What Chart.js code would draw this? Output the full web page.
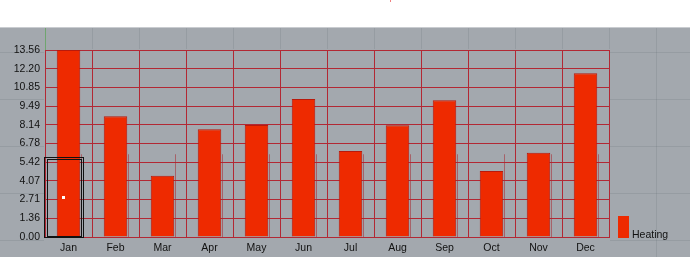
<!DOCTYPE html>
<html>
<head>
<meta charset="utf-8">
<script src="https://cdn.jsdelivr.net/npm/chart.js@4.4.0/dist/chart.umd.min.js"></script>
<style>
  html, body { margin: 0; padding: 0; background: #ffffff; }
  #wrap { width: 690px; height: 257px; position: relative; }
</style>
</head>
<body>
<div id="wrap"><canvas id="chart" width="690" height="257"></canvas></div>
<script>
// --- DADOS ---
const months = ['Jan', 'Feb', 'Mar', 'Apr', 'May', 'Jun', 'Jul', 'Aug', 'Sep', 'Oct', 'Nov', 'Dec'];
const heating = [13.56, 8.75, 4.45, 7.81, 8.12, 10.0, 6.24, 8.1, 9.91, 4.79, 6.11, 11.87];
const yTicks = [0, 1.356, 2.712, 4.068, 5.424, 6.78, 8.136, 9.492, 10.848, 12.204, 13.56];
const seriesName = 'Heating';

const BAR_RED = '#ee2a00';
const GRID_RED = 'rgb(178, 40, 52)';
const VIEW_GREY = '#a3a8ae';
const FONT = { family: '"Liberation Sans", Arial, sans-serif', size: 10.5 };

// fundo do viewport (faixa branca + cinza + grade fraca)
const viewportBg = {
    id: 'viewportBg',
    beforeDraw(chart) {
        const { ctx, width, height, chartArea, scales: { x } } = chart;
        ctx.save();
        ctx.fillStyle = '#ffffff';
        ctx.fillRect(0, 0, width, height);
        ctx.fillStyle = VIEW_GREY;
        ctx.fillRect(0, 27, width, height - 27);
        ctx.fillStyle = '#c9ccd0';
        ctx.fillRect(0, 27, width, 1);
        // grade fraca do viewport, só fora da área do gráfico
        ctx.beginPath();
        ctx.rect(0, 28, width, height - 28);
        ctx.rect(chartArea.left - 1, chartArea.top - 1, chartArea.width + 2, height - chartArea.top + 1);
        ctx.clip('evenodd');
        const step = x.getPixelForValue(1) - x.getPixelForValue(0);
        const x0 = x.getPixelForValue(0) - step / 2;
        ctx.strokeStyle = 'rgba(90, 95, 100, 0.16)';
        ctx.lineWidth = 1;
        for (let gx = x0; gx < width; gx += step) {
            ctx.beginPath(); ctx.moveTo(Math.round(gx) + 0.5, 28); ctx.lineTo(Math.round(gx) + 0.5, height); ctx.stroke();
        }
        for (let gy = 52; gy < height; gy += step) {
            ctx.beginPath(); ctx.moveTo(0, Math.round(gy) + 0.5); ctx.lineTo(width, Math.round(gy) + 0.5); ctx.stroke();
        }
        ctx.restore();
        ctx.save();
        // eixo verde
        ctx.strokeStyle = '#6fa56f';
        ctx.beginPath(); ctx.moveTo(Math.round(x0) + 0.5, 28); ctx.lineTo(Math.round(x0) + 0.5, chartArea.top); ctx.stroke();
        // pequena marca vermelha no topo
        ctx.fillStyle = '#f08080';
        ctx.fillRect(390, 0, 1, 2);
        ctx.restore();
    },
    afterDatasetsDraw(chart) {
        // linhas verticais duplicadas na parte de baixo
        const { ctx, scales: { x, y } } = chart;
        const step = x.getPixelForValue(1) - x.getPixelForValue(0);
        ctx.save();
        ctx.strokeStyle = 'rgba(170, 40, 50, 0.55)';
        ctx.lineWidth = 1;
        for (let i = 1; i <= months.length; i++) {
            const gx = Math.round(x.getPixelForValue(i) - step / 2 - 11) + 0.5;
            ctx.beginPath(); ctx.moveTo(gx, y.getPixelForValue(6)); ctx.lineTo(gx, y.getPixelForValue(0)); ctx.stroke();
        }
        ctx.restore();
    },
    afterDraw(chart) {
        const { ctx, chartArea, scales: { x, y } } = chart;
        const step = x.getPixelForValue(1) - x.getPixelForValue(0);
        ctx.save();
        // caixa de seleção preta em Jan
        const left = x.getPixelForValue(0) - step / 2;
        const y0 = y.getPixelForValue(0);
        const yTop = y.getPixelForValue(5.8);
        ctx.strokeStyle = '#111111';
        ctx.lineWidth = 1;
        ctx.strokeRect(Math.round(left) - 0.5, Math.round(yTop) + 0.5, 39, Math.round(y0 - yTop));
        ctx.strokeRect(Math.round(left) + 2.5, Math.round(yTop) + 2.5, 34, Math.round(y0 - yTop) - 3);
        ctx.fillStyle = '#ffffff';
        ctx.fillRect(Math.round(left) + 17, Math.round(y.getPixelForValue(2.92)) - 1, 3, 3);
        // legenda
        const lx = chartArea.right + 9;
        const lb = y0 + 1;
        ctx.fillStyle = BAR_RED;
        ctx.fillRect(lx, lb - 22, 11, 22);
        ctx.fillStyle = '#111111';
        ctx.font = `${FONT.size}px ${FONT.family}`;
        ctx.textBaseline = 'alphabetic';
        ctx.textAlign = 'left';
        ctx.fillText(seriesName, lx + 14, lb);
        ctx.restore();
    }
};

new Chart(document.getElementById('chart'), {
    type: 'bar',
    data: {
        labels: months,
        datasets: [{
            label: seriesName,
            data: heating,
            backgroundColor: BAR_RED,
            borderColor: '#b81a0c',
            borderWidth: 1,
            barPercentage: 1,
            categoryPercentage: 0.5
        }]
    },
    options: {
        responsive: false,
        animation: false,
        layout: { padding: { top: 50, right: 81, left: 0, bottom: 0 } },
        plugins: { legend: { display: false }, tooltip: { enabled: false } },
        scales: {
            x: {
                grid: { color: GRID_RED, drawTicks: false, offset: true },
                border: { color: GRID_RED },
                ticks: { color: '#111111', font: FONT, padding: 5, maxRotation: 0 },
                afterFit(axis) { axis.height = 20; }
            },
            y: {
                min: 0,
                max: 13.56,
                grid: { color: GRID_RED, drawTicks: false },
                border: { color: GRID_RED },
                ticks: { color: '#111111', font: FONT, padding: 5, callback: v => Number(v).toFixed(2) },
                afterBuildTicks(axis) { axis.ticks = yTicks.map(v => ({ value: v })); },
                afterFit(axis) { axis.width = 45; }
            }
        }
    },
    plugins: [viewportBg]
});
</script>
</body>
</html>
